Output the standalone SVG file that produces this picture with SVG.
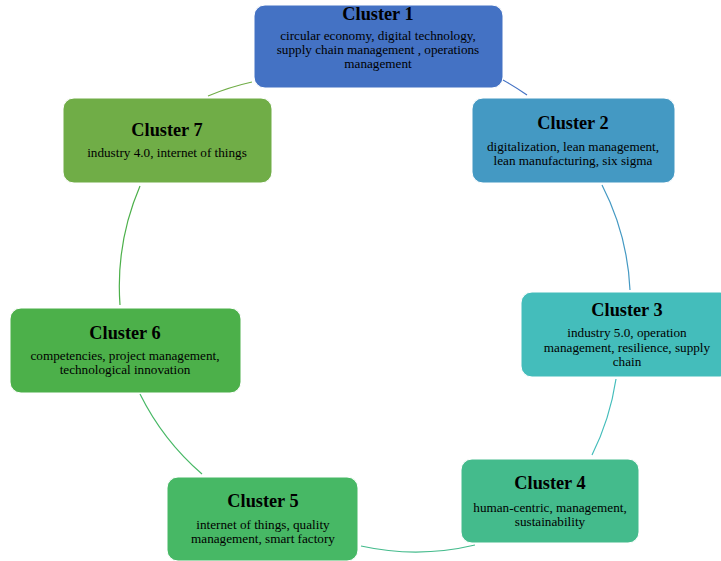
<svg xmlns="http://www.w3.org/2000/svg" width="721" height="561" viewBox="0 0 721 561">
<style>
.box{stroke:#ffffff;stroke-width:1}
.t{font-family:"Liberation Serif","Times New Roman",serif;font-size:18.3px;font-weight:bold;fill:#000;text-anchor:middle}
.b{font-family:"Liberation Serif","Times New Roman",serif;font-size:13.2px;fill:#000;text-anchor:middle}
.c{fill:none;stroke-width:1.2}
</style>
<rect width="721" height="561" fill="#ffffff"/>
<g id="connectors">
<path class="c" stroke="#4472C4" d="M503,80 A255,255 0 0 1 527,95"/>
<path class="c" stroke="#4499C3" d="M602,185 A255,255 0 0 1 630,290"/>
<path class="c" stroke="#44BDBB" d="M616,379 A255,255 0 0 1 592,455"/>
<path class="c" stroke="#44BB8C" d="M475,545 A255,255 0 0 1 361,546"/>
<path class="c" stroke="#47B865" d="M202,474 A255,255 0 0 1 140,394"/>
<path class="c" stroke="#4CB04A" d="M120,305 A255,255 0 0 1 140,186"/>
<path class="c" stroke="#70AD47" d="M208,96 A255,255 0 0 1 252,82"/>
</g>
<g id="cluster1">
<rect class="box" x="254" y="5" width="249" height="83" rx="11" fill="#4472C4"/>
<text class="t" x="378" y="20">Cluster 1</text>
<text class="b" x="378" y="40">circular economy, digital technology,</text>
<text class="b" x="378" y="54">supply chain management , operations</text>
<text class="b" x="378" y="68">management</text>
</g>
<g id="cluster2">
<rect class="box" x="472" y="98" width="203" height="85" rx="11" fill="#4499C3"/>
<text class="t" x="573" y="129">Cluster 2</text>
<text class="b" x="573" y="151">digitalization, lean management,</text>
<text class="b" x="573" y="165">lean manufacturing, six sigma</text>
</g>
<g id="cluster3">
<rect class="box" x="521" y="292" width="210" height="85" rx="11" fill="#44BDBB"/>
<text class="t" x="627" y="316">Cluster 3</text>
<text class="b" x="627" y="337">industry 5.0, operation</text>
<text class="b" x="627" y="352">management, resilience, supply</text>
<text class="b" x="627" y="366">chain</text>
</g>
<g id="cluster4">
<rect class="box" x="461" y="459" width="178" height="84" rx="11" fill="#44BB8C"/>
<text class="t" x="550" y="489">Cluster 4</text>
<text class="b" x="550" y="512">human-centric, management,</text>
<text class="b" x="550" y="526">sustainability</text>
</g>
<g id="cluster5">
<rect class="box" x="167" y="477" width="191" height="84" rx="11" fill="#47B865"/>
<text class="t" x="263" y="507">Cluster 5</text>
<text class="b" x="263" y="529">internet of things, quality</text>
<text class="b" x="263" y="543">management, smart factory</text>
</g>
<g id="cluster6">
<rect class="box" x="10" y="308" width="231" height="85" rx="11" fill="#4CB04A"/>
<text class="t" x="125" y="339">Cluster 6</text>
<text class="b" x="125" y="360">competencies, project management,</text>
<text class="b" x="125" y="374">technological innovation</text>
</g>
<g id="cluster7">
<rect class="box" x="63" y="98" width="209" height="85" rx="11" fill="#70AD47"/>
<text class="t" x="167" y="136">Cluster 7</text>
<text class="b" x="167" y="157">industry 4.0, internet of things</text>
</g>
</svg>
